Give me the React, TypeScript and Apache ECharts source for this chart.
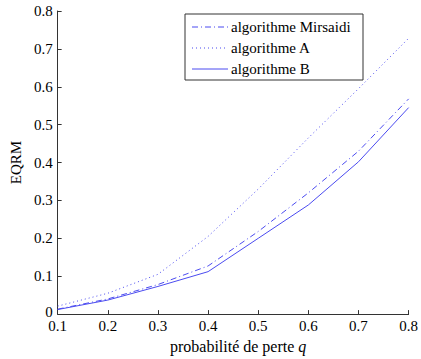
import React, { useEffect, useRef } from "react";
import * as echarts from "echarts";

const qValues = [0.1, 0.2, 0.3, 0.4, 0.5, 0.6, 0.7, 0.8];
const mirsaidi = [0.013, 0.04, 0.078, 0.127, 0.218, 0.32, 0.43, 0.568];
const algoA = [0.021, 0.055, 0.105, 0.205, 0.33, 0.465, 0.595, 0.728];
const algoB = [0.012, 0.037, 0.073, 0.112, 0.2, 0.288, 0.402, 0.545];
const seriesNames = ["algorithme Mirsaidi", "algorithme A", "algorithme B"];

const BLUE = "#4b4bf0";
const FONT = "Liberation Serif";
const FS = 15;
const dashes: any[] = [[6, 3, 1, 3], [1, 3], "solid"];

export default function App() {
  const ref = useRef<HTMLDivElement>(null);
  useEffect(() => {
    if (!ref.current) return;
    const chart = echarts.init(ref.current, null, { renderer: "svg" });
    const datasets = [mirsaidi, algoA, algoB];
    const legendX = 185, legendY = 14, rowH = 21;
    const legendGraphics: any[] = [
      {
        type: "rect",
        shape: { x: legendX, y: legendY, width: 178, height: 66 },
        style: { fill: "#fff", stroke: "#333", lineWidth: 1 },
        z: 10,
      },
    ];
    seriesNames.forEach((n, i) => {
      const cy = legendY + 13 + i * rowH;
      legendGraphics.push({
        type: "line",
        shape: { x1: legendX + 7, y1: cy, x2: legendX + 43, y2: cy },
        style: {
          stroke: BLUE,
          lineWidth: 1,
          lineDash: dashes[i] === "solid" ? null : dashes[i],
        },
        z: 11,
      });
      legendGraphics.push({
        type: "text",
        x: legendX + 46,
        y: cy,
        style: {
          text: n,
          fontFamily: FONT,
          fontSize: FS,
          fill: "#000",
          verticalAlign: "middle",
        },
        z: 11,
      });
    });
    chart.setOption({
      animation: false,
      textStyle: { fontFamily: FONT },
      grid: { left: 49, right: 10, top: 11, bottom: 40 },
      xAxis: {
        type: "value",
        min: 0.1,
        max: 0.8,
        interval: 0.1,
        name: "probabilité de perte {i|q}",
        nameLocation: "middle",
        nameGap: 21,
        nameTextStyle: {
          fontFamily: FONT,
          fontSize: 16,
          color: "#000",
          padding: [0, 0, 0, 10],
          rich: { i: { fontStyle: "italic", fontFamily: FONT, fontSize: 16 } },
        },
        axisLine: { onZero: false, lineStyle: { color: "#333", width: 1 } },
        axisTick: { inside: true, length: 4, lineStyle: { color: "#333" } },
        axisLabel: {
          fontFamily: FONT,
          fontSize: FS,
          color: "#000",
          margin: 4,
          formatter: (v: number) => v.toFixed(1),
        },
        splitLine: { show: false },
      },
      yAxis: {
        type: "value",
        min: 0,
        max: 0.8,
        interval: 0.1,
        name: "EQRM",
        nameLocation: "middle",
        nameGap: 33,
        nameTextStyle: { fontFamily: FONT, fontSize: FS, color: "#000" },
        axisLine: { show: true, lineStyle: { color: "#333", width: 1 } },
        axisTick: { show: true, inside: true, length: 4, lineStyle: { color: "#333" } },
        axisLabel: {
          fontFamily: FONT,
          fontSize: FS,
          color: "#000",
          margin: 5,
          formatter: (v: number) => (v === 0 ? "{z|0}" : v.toFixed(1)),
          rich: { z: { fontFamily: FONT, fontSize: FS, color: "#000", padding: [0, 0, 5, 0] } },
        },
        splitLine: { show: false },
      },
      series: datasets.map((d, i) => ({
        name: seriesNames[i],
        type: "line",
        data: qValues.map((q, j) => [q, d[j]]),
        showSymbol: false,
        symbol: "none",
        lineStyle: { color: BLUE, width: 1, type: dashes[i] },
      })),
      graphic: legendGraphics,
    });
    return () => chart.dispose();
  }, []);
  return <div ref={ref} style={{ width: 421, height: 359, position: "absolute", left: 0, top: 0 }} />;
}
